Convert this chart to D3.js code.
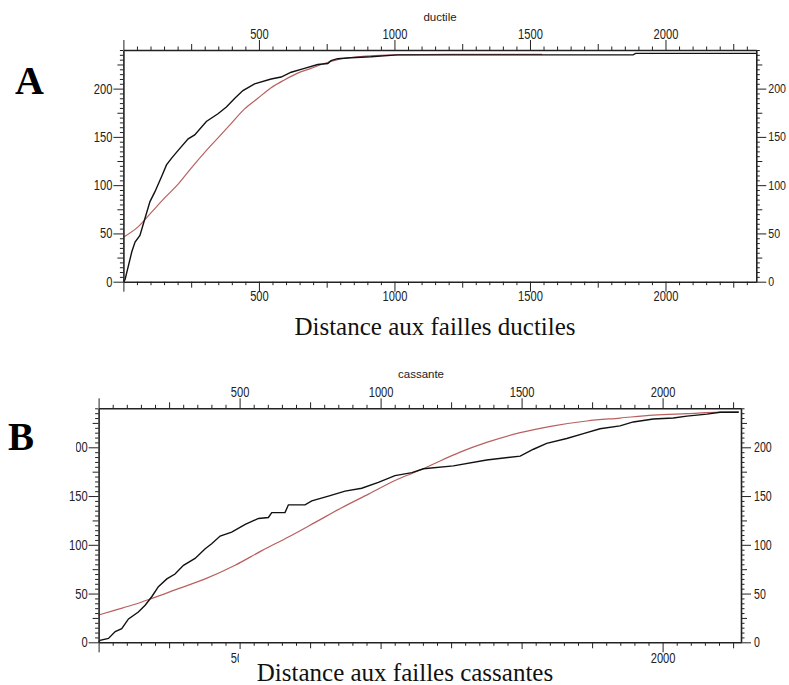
<!DOCTYPE html>
<html>
<head>
<meta charset="utf-8">
<script src="https://cdn.jsdelivr.net/npm/d3@7"></script>
<style>
  body { margin: 0; background: #fff; }
  .tick text { font-family: "Liberation Sans", Arial, sans-serif; font-size: 14px; fill: #222; }
  .axis path, .axis line { stroke: #222; }
</style>
</head>
<body>
<svg id="chart" width="789" height="685"></svg>
<script>
// ---- données ----
// A : distance aux failles ductiles
const ductX   = [0, 6, 31, 43, 61, 80, 98, 116, 141, 159, 178, 202, 239, 263, 306, 349, 380, 411, 441, 484, 545, 582, 619, 668, 717, 754, 766, 790, 839, 913, 1011, 1400, 1880, 1890, 2335];
const ductObs = [0, 2, 31, 41, 48, 66, 83, 93, 109, 121, 128, 136, 148, 152, 166, 174, 181, 190, 198, 205, 210, 212, 217, 221, 225, 226, 229, 231, 232, 233, 235, 235, 235, 236.5, 236.5];
const ductFitX = [0, 55, 104, 153, 202, 251, 300, 349, 398, 447, 496, 545, 594, 643, 692, 741, 790, 864, 1011, 1200, 1545];
const ductFit  = [46, 57, 72, 87, 101, 118, 134, 149, 164, 179, 190, 201, 209, 216, 221, 226, 230, 233, 235, 235.5, 235.5];

// B : distance aux failles cassantes
const cassX   = [0, 5, 35, 59, 82, 106, 141, 165, 189, 212, 242, 271, 301, 342, 378, 401, 431, 472, 520, 567, 602, 614, 661, 673, 732, 756, 815, 874, 933, 992, 1051, 1111, 1152, 1258, 1376, 1495, 1542, 1589, 1660, 1719, 1778, 1849, 1896, 1967, 2038, 2086, 2157, 2204, 2270];
const cassObs = [0, 2, 4, 11, 14, 24, 31, 38, 47, 57, 65, 70, 79, 86, 96, 101, 109, 113, 121, 127, 128, 133, 133, 141, 141, 145, 150, 155, 158, 164, 171, 174, 178, 181, 187, 191, 198, 204, 209, 214, 219, 222, 226, 229, 230, 232, 234, 236, 236];
const cassFitX = [0, 59, 129, 189, 283, 378, 484, 579, 673, 768, 862, 957, 1051, 1152, 1211, 1282, 1376, 1495, 1613, 1731, 1849, 1967, 2086, 2204, 2270];
const cassFit  = [28, 33, 39, 45, 55, 65, 79, 94, 108, 123, 138, 152, 166, 178, 186, 195, 205, 215, 222, 227, 230, 233, 234.5, 236, 236.5];

const yTicks = d3.range(0, 241, 5);

const svg = d3.select('#chart');

// chiffres étroits comme sur l'original
function narrow(sel, w) {
  sel.each(function () {
    const t = d3.select(this);
    const n = t.text().length;
    if (n) t.attr('textLength', n * w).attr('lengthAdjust', 'spacingAndGlyphs');
  });
}

function drawPanel(p) {
  const x = d3.scaleLinear().domain([0, p.xMax]).range([p.left, p.right]);
  const y = d3.scaleLinear().domain([0, 240]).range([p.bottom, p.top]);
  const xTicks = d3.range(0, p.xMax, 50);

  const xLen = v => v % 500 === 0 ? 10 : v % 250 === 0 ? 6 : 3.5;
  const yLen = v => v % 50 === 0 ? 10 : v % 25 === 0 ? 6 : 3.5;
  const fmtX = v => (v % 500 === 0 && v > 0) ? v : '';
  const fmtBot = v => p.botShown.includes(v) ? v : '';
  const fmtY = v => v % 50 === 0 ? v : '';

  // courbes
  const line = d3.line().x(d => x(d[0])).y(d => y(d[1]));
  svg.append('path')
    .datum(d3.zip(p.fitX, p.fit))
    .attr('fill', 'none')
    .attr('stroke', '#b8605f')
    .attr('stroke-width', 1.2)
    .attr('d', line.curve(d3.curveMonotoneX));
  svg.append('path')
    .datum(d3.zip(p.obsX, p.obs))
    .attr('fill', 'none')
    .attr('stroke', '#111')
    .attr('stroke-width', 1.4)
    .attr('d', line.curve(d3.curveLinear));

  // axes
  const bottom = svg.append('g').attr('class', 'axis')
    .attr('transform', `translate(0,${p.bottom})`)
    .call(d3.axisBottom(x).tickValues(xTicks).tickFormat(fmtBot).tickSizeOuter(0));
  bottom.selectAll('.tick line').attr('y2', d => xLen(d));
  bottom.selectAll('.tick text').attr('y', p.botLab).attr('dy', 0);

  const top = svg.append('g').attr('class', 'axis')
    .attr('transform', `translate(0,${p.top})`)
    .call(d3.axisTop(x).tickValues(xTicks).tickFormat(fmtX).tickSizeOuter(0));
  top.selectAll('.tick line').attr('y2', d => -xLen(d));
  top.selectAll('.tick text').attr('y', -11).attr('dy', 0);

  const left = svg.append('g').attr('class', 'axis')
    .attr('transform', `translate(${p.left},0)`)
    .call(d3.axisLeft(y).tickValues(yTicks).tickFormat(fmtY).tickSizeOuter(0));
  left.selectAll('.tick line').attr('x2', d => -yLen(d));
  left.selectAll('.tick text').attr('x', -11);

  const right = svg.append('g').attr('class', 'axis')
    .attr('transform', `translate(${p.right},0)`)
    .call(d3.axisRight(y).tickValues(yTicks).tickFormat(fmtY).tickSizeOuter(0));
  right.selectAll('.tick line').attr('x2', d => yLen(d));

  svg.selectAll('.axis path').attr('stroke-width', 1.6);
  bottom.selectAll('.tick text').call(narrow, 6.2);
  top.selectAll('.tick text').call(narrow, 6.2);
  left.selectAll('.tick text').call(narrow, 6.2);
  right.selectAll('.tick text')
    .attr('x', p.rightLab)
    .style('font-size', p.rightSize + 'px')
    .call(narrow, 5.9);

  // titre du haut
  svg.append('text')
    .attr('x', p.titleX).attr('y', p.titleY)
    .attr('text-anchor', 'middle')
    .style('font-family', '"Liberation Sans", Arial, sans-serif')
    .style('font-size', '11.5px')
    .attr('fill', '#222')
    .text(p.title);
}

drawPanel({
  left: 123.4, right: 756.3, top: 50, bottom: 281.7, xMax: 2335,
  obsX: ductX, obs: ductObs, fitX: ductFitX, fit: ductFit,
  botLab: 19, botShown: [500, 1000, 1500, 2000],
  rightLab: 12, rightSize: 12,
  title: 'ductile', titleX: 440, titleY: 20.5
});

// en B, le titre de l'axe masque 1000 et 1500
drawPanel({
  left: 98.6, right: 741, top: 408.3, bottom: 642.3, xMax: 2278,
  obsX: cassX, obs: cassObs, fitX: cassFitX, fit: cassFit,
  botLab: 20.5, botShown: [500, 2000],
  rightLab: 13, rightSize: 14,
  title: 'cassante', titleX: 421, titleY: 378
});

// cadres blancs des étiquettes (ils masquent une partie des graduations)
svg.append('rect').attr('x', 0).attr('y', 412).attr('width', 76).attr('height', 44).attr('fill', '#fff');
svg.append('rect').attr('x', 239).attr('y', 649).attr('width', 336).attr('height', 36).attr('fill', '#fff');

const serif = '"Liberation Serif", "Times New Roman", serif';
svg.append('text').attr('x', 15).attr('y', 94)
  .style('font-family', serif).style('font-size', '40px').style('font-weight', 'bold')
  .text('A');
svg.append('text').attr('x', 8).attr('y', 450)
  .style('font-family', serif).style('font-size', '39px').style('font-weight', 'bold')
  .text('B');

svg.append('text').attr('x', 435).attr('y', 335).attr('text-anchor', 'middle')
  .style('font-family', serif).style('font-size', '25px').attr('fill', '#111')
  .text('Distance aux failles ductiles');
svg.append('text').attr('x', 405).attr('y', 681).attr('text-anchor', 'middle')
  .style('font-family', serif).style('font-size', '25px').attr('fill', '#111')
  .text('Distance aux failles cassantes');
</script>
</body>
</html>
